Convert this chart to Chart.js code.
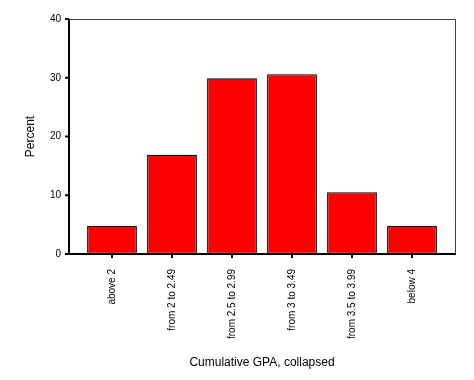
<!DOCTYPE html>
<html>
<head>
<meta charset="utf-8">
<script src="https://cdn.jsdelivr.net/npm/chart.js@4/dist/chart.umd.min.js"></script>
<style>
  html, body { margin: 0; padding: 0; background: #fff; }
  #wrap { width: 474px; height: 380px; }
</style>
</head>
<body>
<div id="wrap"><canvas id="gpa-chart" width="474" height="380"></canvas></div>
<script>
// Chart data
const categories = ['above 2', 'from 2 to 2.49', 'from 2.5 to 2.99', 'from 3 to 3.49', 'from 3.5 to 3.99', 'below 4'];
const percentValues = [4.8, 16.9, 29.9, 30.6, 10.5, 4.8];
const yTicks = [0, 10, 20, 30, 40];

const FRAME_PAD = 13; // frame sits a little outside the bar area

// draws the box around the plot and the small tick marks
const framePlugin = {
    id: 'frame',
    afterDraw(chart) {
        const ctx = chart.ctx;
        const area = chart.chartArea;
        const left = area.left - FRAME_PAD;
        const right = area.right + FRAME_PAD;
        ctx.save();
        // top and right
        ctx.strokeStyle = '#444';
        ctx.lineWidth = 1;
        ctx.beginPath();
        ctx.moveTo(left, area.top + 0.5);
        ctx.lineTo(right + 0.5, area.top + 0.5);
        ctx.lineTo(right + 0.5, area.bottom);
        ctx.stroke();
        // left and bottom axis
        ctx.strokeStyle = '#000';
        ctx.lineWidth = 2;
        ctx.beginPath();
        ctx.moveTo(left, area.top);
        ctx.lineTo(left, area.bottom);
        ctx.lineTo(right + 1, area.bottom);
        ctx.stroke();
        // y tick marks
        const yScale = chart.scales.y;
        yTicks.forEach(v => {
            const y = yScale.getPixelForValue(v);
            ctx.beginPath();
            ctx.moveTo(left - 4, y);
            ctx.lineTo(left, y);
            ctx.stroke();
        });
        // x tick marks
        const xScale = chart.scales.x;
        categories.forEach((c, i) => {
            const x = xScale.getPixelForValue(i);
            ctx.beginPath();
            ctx.moveTo(x, area.bottom);
            ctx.lineTo(x, area.bottom + 4);
            ctx.stroke();
        });
        ctx.restore();
    }
};

new Chart(document.getElementById('gpa-chart'), {
    type: 'bar',
    data: {
        labels: categories,
        datasets: [{
            label: 'Percent',
            data: percentValues,
            backgroundColor: '#ff0000',
            borderColor: '#000',
            borderWidth: 1.3,
            borderSkipped: false,
            barPercentage: 0.83,
            categoryPercentage: 1
        }]
    },
    options: {
        responsive: false,
        animation: false,
        layout: { padding: { top: 13, right: 32, left: 0, bottom: 0 } },
        plugins: {
            legend: { display: false },
            tooltip: { enabled: false }
        },
        scales: {
            x: {
                grid: { display: false },
                border: { display: false },
                ticks: {
                    color: '#000',
                    font: { family: 'Liberation Sans, Arial', size: 10 },
                    minRotation: 90,
                    maxRotation: 90,
                    autoSkip: false,
                    padding: 7
                },
                title: {
                    display: true,
                    text: 'Cumulative GPA, collapsed',
                    color: '#000',
                    font: { family: 'Liberation Sans, Arial', size: 12 },
                    padding: { top: 10, bottom: 10 }
                },
                afterFit(scale) { scale.height = 126; }
            },
            y: {
                min: 0,
                max: 40,
                grid: { display: false },
                border: { display: false },
                afterBuildTicks(scale) { scale.ticks = yTicks.map(v => ({ value: v })); },
                ticks: {
                    color: '#000',
                    font: { family: 'Liberation Sans, Arial', size: 10 },
                    padding: 13
                },
                title: {
                    display: true,
                    text: 'Percent',
                    color: '#000',
                    font: { family: 'Liberation Sans, Arial', size: 12 },
                    padding: { top: 23, bottom: 0 }
                },
                afterFit(scale) { scale.width = 82; }
            }
        }
    },
    plugins: [framePlugin]
});
</script>
</body>
</html>
